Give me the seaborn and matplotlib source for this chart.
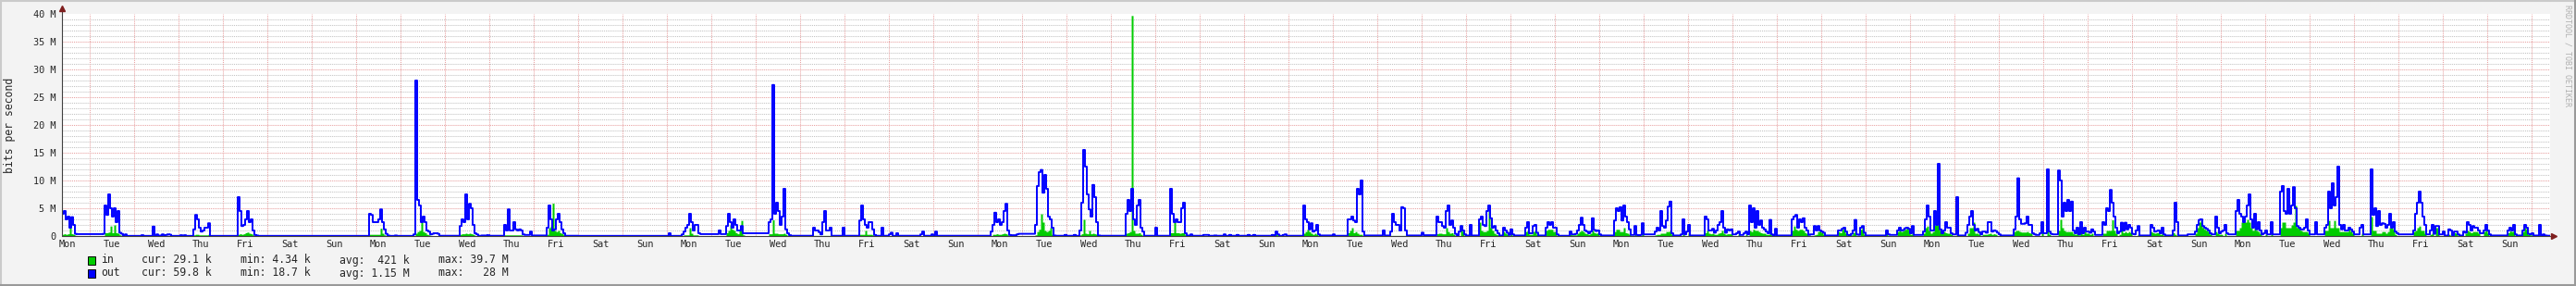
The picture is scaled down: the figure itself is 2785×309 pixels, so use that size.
import numpy as np
import matplotlib
matplotlib.use("Agg")
import matplotlib.pyplot as plt
import seaborn as sns
from matplotlib.patches import Rectangle
from matplotlib.lines import Line2D

# ---------------- data (Mbit/s, hourly, starting Monday 00:00) ----------------
day_names = ["Mon", "Tue", "Wed", "Thu", "Fri", "Sat", "Sun"]
y_ticks = [0, 5, 10, 15, 20, 25, 30, 35, 40]
y_tick_labels = ["0", "5 M", "10 M", "15 M", "20 M", "25 M", "30 M", "35 M", "40 M"]

legend_in = ["in", "cur: 29.1 k", "min: 4.34 k", "avg:  421 k", "max: 39.7 M"]
legend_out = ["out", "cur: 59.8 k", "min: 18.7 k", "avg: 1.15 M", "max:   28 M"]

out_w1 = [
    0, 0, 0, 0, 0, 0, 0, 0, 0, 4.0, 4.5, 3.0, 3.5, 1.5, 3.4, 2.0, 0.4, 0.35, 0.35, 0.35, 0.35, 0.35, 0.35, 0.35,
    0.35, 0.35, 0.35, 0.35, 0.35, 0.35, 0.35, 0.4, 5.5, 3.8, 7.5, 5.0, 3.5, 5.0, 2.5, 4.5, 0.6, 0.4, 0.05, 0.3, 0.03, 0.03, 0.03, 0.03,
    0.03, 0.03, 0.03, 0.03, 0.15, 0.03, 0.03, 0.03, 0.03, 0.03, 1.7, 0.03, 0.3, 0.03, 0.1, 0.3, 0.05, 0.2, 0.3, 0.25, 0.03, 0.03, 0.03, 0.03,
    0.03, 0.15, 0.03, 0.15, 0.03, 0.03, 0.03, 0.03, 1.2, 3.8, 3.0, 1.5, 0.8, 1.0, 1.5, 1.5, 2.3, 0.03, 0.03, 0.03, 0.03, 0.03, 0.03, 0.03,
    0.03, 0.03, 0.03, 0.03, 0.03, 0.03, 0.03, 0.03, 7.0, 4.5, 1.8, 2.0, 3.0, 4.5, 2.5, 3.0, 1.0, 0.2, 0.1, 0.03, 0.03, 0.03, 0.03, 0.03,
    0.03, 0.03, 0.03, 0.03, 0.03, 0.03, 0.03, 0.03, 0.03, 0.03, 0.03, 0.03, 0.03, 0.03, 0.03, 0.03, 0.03, 0.03, 0.03, 0.03, 0.03, 0.03, 0.03, 0.03,
    0.03, 0.03, 0.03, 0.03, 0.03, 0.03, 0.03, 0.03, 0.03, 0.03, 0.03, 0.03, 0.03, 0.03, 0.03, 0.03, 0.03, 0.03, 0.03, 0.03, 0.03, 0.03, 0.03, 0.03,
]
in_w1 = [
    0, 0, 0, 0, 0, 0, 0, 0, 0, 0.3, 0.4, 0.3, 0.4, 1.5, 0.4, 0.3, 0.1, 0.05, 0.05, 0.05, 0.05, 0.05, 0.05, 0.05,
    0.05, 0.05, 0.05, 0.05, 0.05, 0.05, 0.05, 0.05, 0.6, 0.6, 0.7, 1.8, 0.6, 2.0, 0.6, 0.5, 0.2, 0.1, 0.02, 0.02, 0.02, 0.02, 0.02, 0.02,
    0.02, 0.02, 0.02, 0.02, 0.02, 0.02, 0.02, 0.02, 0.02, 0.02, 0.1, 0.02, 0.02, 0.02, 0.02, 0.02, 0.02, 0.02, 0.05, 0.02, 0.02, 0.02, 0.02, 0.02,
    0.02, 0.02, 0.02, 0.02, 0.02, 0.02, 0.02, 0.02, 0.2, 0.3, 0.3, 0.2, 0.2, 0.2, 0.2, 0.2, 0.3, 0.02, 0.02, 0.02, 0.02, 0.02, 0.02, 0.02,
    0.02, 0.02, 0.02, 0.02, 0.02, 0.02, 0.02, 0.02, 0.3, 0.4, 0.3, 0.4, 0.6, 0.7, 0.5, 0.4, 0.2, 0.02, 0.02, 0.02, 0.02, 0.02, 0.02, 0.02,
    0.02, 0.02, 0.02, 0.02, 0.02, 0.02, 0.02, 0.02, 0.02, 0.02, 0.02, 0.02, 0.02, 0.02, 0.02, 0.02, 0.02, 0.02, 0.02, 0.02, 0.02, 0.02, 0.02, 0.02,
    0.02, 0.02, 0.02, 0.02, 0.02, 0.02, 0.02, 0.02, 0.02, 0.02, 0.02, 0.02, 0.02, 0.02, 0.02, 0.02, 0.02, 0.02, 0.02, 0.02, 0.02, 0.02, 0.02, 0.02,
]

out_w2 = [
    0.03, 0.03, 0.03, 0.03, 0.03, 0.03, 0.03, 4.0, 3.8, 2.5, 2.5, 2.5, 3.0, 4.8, 2.5, 1.2, 0.4, 0.1, 0.03, 0.03, 0.03, 0.1, 0.03, 0.03,
    0.03, 0.03, 0.03, 0.03, 0.03, 0.03, 0.03, 0.3, 28.0, 6.5, 5.5, 2.5, 3.5, 2.5, 1.0, 0.8, 0.3, 0.4, 0.5, 0.5, 0.4, 0.05, 0.05, 0.05,
    0.05, 0.05, 0.05, 0.05, 0.05, 0.05, 0.05, 0.05, 1.8, 3.0, 2.5, 7.5, 3.0, 5.8, 5.0, 2.0, 0.5, 0.3, 0.05, 0.05, 0.1, 0.1, 0.1, 0.15,
    0.05, 0.05, 0.05, 0.05, 0.05, 0.05, 0.05, 0.05, 2.0, 1.0, 4.8, 1.0, 1.0, 2.5, 1.2, 1.0, 1.2, 1.0, 0.3, 0.2, 0.2, 0.2, 0.8, 0.1,
    0.1, 0.1, 0.1, 0.1, 0.1, 0.1, 0.1, 1.5, 5.5, 3.0, 1.0, 1.2, 3.0, 4.0, 2.5, 1.2, 0.5, 0.05, 0.05, 0.05, 0.05, 0.05, 0.05, 0.05,
    0.03, 0.03, 0.03, 0.03, 0.03, 0.03, 0.03, 0.03, 0.03, 0.03, 0.03, 0.03, 0.03, 0.03, 0.03, 0.03, 0.03, 0.03, 0.03, 0.03, 0.03, 0.03, 0.03, 0.03,
    0.03, 0.03, 0.03, 0.03, 0.03, 0.03, 0.03, 0.03, 0.03, 0.03, 0.03, 0.03, 0.03, 0.03, 0.03, 0.03, 0.03, 0.03, 0.03, 0.03, 0.03, 0.03, 0.03, 0.03,
]
in_w2 = [
    0.02, 0.02, 0.02, 0.02, 0.02, 0.02, 0.02, 0.3, 0.3, 0.3, 0.3, 0.3, 0.3, 1.4, 0.5, 0.2, 0.02, 0.02, 0.02, 0.02, 0.02, 0.02, 0.02, 0.02,
    0.02, 0.02, 0.02, 0.02, 0.02, 0.02, 0.02, 0.02, 0.5, 0.8, 1.0, 2.8, 0.8, 0.6, 0.3, 0.2, 0.1, 0.02, 0.02, 0.02, 0.02, 0.02, 0.02, 0.02,
    0.02, 0.02, 0.02, 0.02, 0.02, 0.02, 0.02, 0.02, 0.3, 0.4, 0.4, 0.5, 0.4, 0.5, 0.4, 0.3, 0.1, 0.02, 0.02, 0.02, 0.02, 0.02, 0.02, 0.02,
    0.02, 0.02, 0.02, 0.02, 0.02, 0.02, 0.02, 0.02, 0.2, 0.2, 0.2, 0.2, 0.2, 0.2, 0.2, 0.2, 0.2, 0.2, 0.02, 0.02, 0.02, 0.02, 0.02, 0.02,
    0.02, 0.02, 0.02, 0.02, 0.02, 0.02, 0.02, 0.3, 1.5, 1.8, 5.9, 1.0, 0.8, 1.0, 0.6, 0.4, 0.2, 0.02, 0.02, 0.02, 0.02, 0.02, 0.02, 0.02,
    0.02, 0.02, 0.02, 0.02, 0.02, 0.02, 0.02, 0.02, 0.02, 0.02, 0.02, 0.02, 0.02, 0.02, 0.02, 0.02, 0.02, 0.02, 0.02, 0.02, 0.02, 0.02, 0.02, 0.02,
    0.02, 0.02, 0.02, 0.02, 0.02, 0.02, 0.02, 0.02, 0.02, 0.02, 0.02, 0.02, 0.02, 0.02, 0.02, 0.02, 0.02, 0.02, 0.02, 0.02, 0.02, 0.02, 0.02, 0.02,
]

out_w3 = [
    0.03, 0.5, 0.03, 0.03, 0.03, 0.03, 0.03, 0.03, 0.3, 0.8, 1.5, 2.0, 4.0, 2.5, 1.0, 2.0, 2.0, 0.5, 0.35, 0.35, 0.35, 0.35, 0.35, 0.35,
    0.35, 0.35, 0.35, 0.35, 1.0, 0.35, 0.35, 0.35, 1.8, 4.0, 2.5, 1.5, 3.0, 2.0, 1.0, 1.0, 1.8, 0.5, 0.5, 0.5, 0.5, 0.5, 0.5, 0.5,
    0.5, 0.5, 0.5, 0.5, 0.5, 0.5, 0.5, 2.5, 3.0, 27.2, 4.0, 6.0, 4.5, 2.0, 3.5, 8.5, 1.2, 0.5, 0.15, 0.05, 0.05, 0.05, 0.05, 0.05,
    0.05, 0.05, 0.05, 0.05, 0.05, 0.05, 0.05, 1.5, 1.0, 1.0, 0.7, 0.3, 2.5, 4.5, 1.0, 1.0, 1.5, 0.05, 0.05, 0.05, 0.05, 0.05, 0.05, 1.5,
    0.05, 0.05, 0.05, 0.05, 0.05, 0.05, 0.05, 0.05, 2.8, 5.5, 3.0, 2.0, 1.5, 2.5, 2.5, 1.2, 0.2, 0.05, 0.05, 0.05, 1.5, 0.05, 0.05, 0.05,
    0.3, 0.6, 0.05, 0.05, 0.5, 0.05, 0.05, 0.05, 0.05, 0.05, 0.05, 0.05, 0.05, 0.05, 0.05, 0.05, 0.05, 0.3, 0.8, 0.05, 0.05, 0.05, 0.05, 0.3,
    0.05, 0.8, 0.05, 0.05, 0.05, 0.05, 0.05, 0.05, 0.05, 0.05, 0.05, 0.05, 0.05, 0.05, 0.05, 0.05, 0.05, 0.05, 0.05, 0.05, 0.05, 0.05, 0.05, 0.05,
]
in_w3 = [
    0.02, 0.02, 0.02, 0.02, 0.02, 0.02, 0.02, 0.02, 0.02, 0.2, 0.2, 0.2, 1.5, 0.5, 0.2, 0.2, 0.2, 0.02, 0.02, 0.02, 0.02, 0.02, 0.02, 0.02,
    0.03, 0.03, 0.03, 0.03, 0.03, 0.03, 0.03, 0.03, 0.6, 1.0, 2.0, 1.2, 1.0, 0.6, 0.4, 1.0, 2.8, 0.2, 0.03, 0.03, 0.03, 0.03, 0.03, 0.03,
    0.03, 0.03, 0.03, 0.03, 0.03, 0.03, 0.03, 0.4, 0.4, 2.9, 0.5, 0.5, 0.4, 0.4, 0.4, 0.5, 0.3, 0.03, 0.03, 0.03, 0.03, 0.03, 0.03, 0.03,
    0.02, 0.02, 0.02, 0.02, 0.02, 0.02, 0.02, 0.1, 0.1, 0.1, 0.1, 0.1, 0.1, 0.1, 0.1, 0.1, 0.1, 0.02, 0.02, 0.02, 0.02, 0.02, 0.02, 0.02,
    0.02, 0.02, 0.02, 0.02, 0.02, 0.02, 0.02, 0.02, 0.3, 0.3, 0.3, 1.0, 0.3, 0.3, 0.3, 0.2, 0.02, 0.02, 0.02, 0.02, 0.02, 0.02, 0.02, 0.02,
    0.02, 0.02, 0.02, 0.02, 0.02, 0.02, 0.02, 0.02, 0.02, 0.02, 0.02, 0.02, 0.02, 0.02, 0.02, 0.02, 0.02, 0.02, 0.02, 0.02, 0.02, 0.02, 0.02, 0.02,
    0.02, 0.02, 0.02, 0.02, 0.02, 0.02, 0.02, 0.02, 0.02, 0.02, 0.02, 0.02, 0.02, 0.02, 0.02, 0.02, 0.02, 0.02, 0.02, 0.02, 0.02, 0.02, 0.02, 0.02,
]

out_w4 = [
    0.05, 0.05, 0.05, 0.05, 0.05, 0.05, 0.05, 0.8, 2.0, 4.2, 2.5, 3.0, 2.0, 2.5, 4.5, 5.8, 1.0, 0.2, 0.15, 0.15, 0.15, 0.3, 0.4, 0.4,
    0.4, 0.4, 0.4, 0.4, 0.4, 0.4, 0.4, 2.0, 9.0, 11.5, 11.9, 7.8, 11.0, 8.5, 3.5, 3.0, 1.5, 0.1, 0.05, 0.05, 0.05, 0.05, 0.05, 0.2,
    0.05, 0.05, 0.05, 0.05, 0.2, 0.05, 0.05, 1.0, 6.0, 15.5, 12.5, 7.5, 4.8, 3.5, 9.2, 7.0, 2.5, 0.1, 0.05, 0.05, 0.05, 0.05, 0.05, 0.05,
    0.05, 0.05, 0.05, 0.05, 0.05, 0.05, 0.05, 0.05, 4.0, 6.5, 4.5, 8.5, 3.0, 2.0, 5.5, 6.5, 1.5, 0.8, 0.05, 0.05, 0.05, 0.05, 0.05, 0.05,
    1.5, 0.05, 0.05, 0.05, 0.05, 0.05, 0.05, 0.05, 8.5, 4.0, 2.5, 3.0, 2.5, 2.5, 5.0, 6.0, 0.5, 0.1, 0.05, 0.3, 0.05, 0.05, 0.05, 0.05,
    0.05, 0.05, 0.2, 0.2, 0.2, 0.05, 0.05, 0.05, 0.1, 0.05, 0.05, 0.05, 0.05, 0.3, 0.05, 0.05, 0.2, 0.05, 0.05, 0.05, 0.2, 0.05, 0.05, 0.05,
    0.05, 0.05, 0.2, 0.05, 0.05, 0.2, 0.05, 0.05, 0.05, 0.05, 0.05, 0.05, 0.05, 0.05, 0.05, 0.2, 0.05, 0.8, 0.3, 0.05, 0.05, 0.2, 0.3, 0.05,
]
in_w4 = [
    0.02, 0.02, 0.02, 0.02, 0.02, 0.02, 0.02, 0.02, 0.3, 0.3, 0.4, 0.3, 0.3, 0.4, 0.5, 0.4, 0.2, 0.02, 0.02, 0.02, 0.02, 0.02, 0.02, 0.02,
    0.03, 0.03, 0.03, 0.03, 0.03, 0.03, 0.03, 0.2, 0.8, 1.2, 4.0, 2.5, 1.0, 0.8, 1.0, 1.5, 0.3, 0.03, 0.03, 0.03, 0.03, 0.03, 0.03, 0.03,
    0.02, 0.02, 0.02, 0.02, 0.02, 0.02, 0.02, 0.2, 0.4, 3.0, 0.5, 0.4, 1.0, 0.4, 0.5, 0.4, 0.3, 0.02, 0.02, 0.02, 0.02, 0.02, 0.02, 0.02,
    0.02, 0.02, 0.02, 0.02, 0.02, 0.02, 0.02, 0.02, 0.5, 0.6, 0.8, 39.7, 1.0, 0.5, 0.5, 0.6, 0.3, 0.1, 0.02, 0.02, 0.02, 0.02, 0.02, 0.02,
    0.02, 0.02, 0.02, 0.02, 0.02, 0.02, 0.02, 0.02, 0.6, 0.6, 3.0, 0.6, 0.6, 0.5, 0.6, 0.6, 0.2, 0.02, 0.02, 0.02, 0.02, 0.02, 0.02, 0.02,
    0.02, 0.02, 0.02, 0.02, 0.02, 0.02, 0.02, 0.02, 0.02, 0.02, 0.02, 0.02, 0.02, 0.02, 0.02, 0.02, 0.02, 0.02, 0.02, 0.02, 0.02, 0.02, 0.02, 0.02,
    0.02, 0.02, 0.02, 0.02, 0.02, 0.02, 0.02, 0.02, 0.02, 0.02, 0.02, 0.02, 0.02, 0.02, 0.02, 0.02, 0.02, 0.3, 0.2, 0.02, 0.02, 0.02, 0.02, 0.02,
]

out_w5 = [
    0.05, 0.05, 0.05, 0.05, 0.05, 0.05, 0.05, 0.05, 5.5, 3.0, 2.5, 1.2, 2.3, 0.8, 1.0, 2.0, 0.3, 0.1, 0.1, 0.1, 0.1, 0.1, 0.1, 0.1,
    0.3, 0.05, 0.05, 0.05, 0.05, 0.05, 0.05, 0.05, 3.0, 3.0, 3.5, 2.8, 2.5, 8.5, 7.5, 10.0, 0.8, 0.1, 0.1, 0.1, 0.1, 0.1, 0.1, 0.1,
    0.1, 0.1, 0.1, 1.0, 0.1, 0.1, 0.1, 0.8, 4.0, 2.5, 2.0, 2.0, 1.0, 5.2, 5.0, 1.0, 0.1, 0.1, 0.1, 0.1, 0.1, 0.1, 0.1, 0.1,
    0.6, 0.15, 0.15, 0.15, 0.15, 0.15, 0.15, 0.15, 3.5, 2.5, 2.5, 1.8, 1.5, 4.5, 5.5, 2.0, 2.8, 1.5, 0.4, 0.1, 0.8, 1.8, 1.0, 0.3,
    0.1, 0.1, 2.0, 0.1, 0.1, 0.1, 0.1, 3.0, 3.5, 2.0, 1.8, 4.5, 5.5, 3.2, 1.5, 1.8, 1.0, 0.5, 0.1, 0.1, 1.5, 1.0, 0.6, 0.2,
    1.2, 0.3, 0.1, 0.1, 0.1, 0.1, 0.1, 0.1, 1.5, 2.5, 0.5, 0.5, 1.8, 2.0, 0.6, 0.1, 0.1, 0.1, 0.1, 1.5, 2.5, 2.0, 2.5, 1.5,
    1.5, 0.3, 0.05, 0.05, 0.05, 0.05, 0.05, 0.05, 0.8, 0.3, 0.3, 0.4, 1.0, 2.0, 3.3, 2.0, 1.0, 0.8, 0.5, 0.8, 3.2, 1.1, 0.9, 1.0,
]
in_w5 = [
    0.02, 0.02, 0.02, 0.02, 0.02, 0.02, 0.02, 0.02, 0.5, 0.8, 1.2, 0.8, 0.5, 0.3, 0.5, 0.3, 0.1, 0.02, 0.02, 0.02, 0.02, 0.02, 0.02, 0.02,
    0.02, 0.02, 0.02, 0.02, 0.02, 0.02, 0.02, 0.02, 0.6, 1.0, 1.5, 0.6, 0.8, 0.5, 0.3, 0.3, 0.02, 0.02, 0.02, 0.02, 0.02, 0.02, 0.02, 0.02,
    0.02, 0.02, 0.02, 0.02, 0.02, 0.02, 0.02, 0.1, 0.1, 0.1, 0.1, 0.1, 0.1, 0.1, 0.1, 0.1, 0.02, 0.02, 0.02, 0.02, 0.02, 0.02, 0.02, 0.02,
    0.02, 0.02, 0.02, 0.02, 0.02, 0.02, 0.02, 0.02, 0.4, 0.5, 0.5, 0.4, 0.4, 1.5, 0.8, 0.5, 0.6, 0.3, 0.02, 0.02, 0.02, 2.0, 0.8, 0.02,
    0.02, 0.02, 0.3, 0.02, 0.02, 0.02, 0.02, 2.5, 1.0, 0.8, 0.8, 1.0, 4.5, 1.5, 1.0, 0.5, 0.3, 0.2, 0.02, 0.02, 0.8, 0.5, 0.3, 0.1,
    0.5, 0.03, 0.03, 0.03, 0.03, 0.03, 0.03, 0.03, 0.8, 1.0, 0.3, 0.3, 0.8, 1.0, 0.3, 0.03, 0.03, 0.03, 0.03, 1.0, 1.2, 1.2, 1.2, 0.8,
    0.8, 0.02, 0.02, 0.02, 0.02, 0.02, 0.02, 0.02, 0.3, 0.2, 0.2, 0.2, 0.5, 0.8, 1.0, 0.8, 0.5, 0.4, 0.3, 0.5, 1.0, 0.6, 0.5, 0.6,
]

out_w6 = [
    0.3, 0.1, 0.1, 0.1, 0.1, 0.1, 0.1, 0.1, 2.8, 5.0, 4.5, 5.2, 2.8, 5.5, 3.5, 2.5, 1.2, 0.2, 0.2, 1.8, 0.2, 0.1, 0.2, 2.3,
    0.3, 0.3, 0.3, 0.3, 0.3, 0.3, 0.8, 1.5, 1.0, 4.5, 1.8, 1.5, 2.8, 5.3, 6.2, 0.5, 0.1, 0.1, 0.1, 0.1, 0.3, 3.0, 0.3, 0.8,
    2.0, 0.1, 0.1, 0.1, 0.1, 0.1, 0.1, 0.1, 0.1, 3.5, 3.0, 1.0, 1.0, 1.3, 0.6, 1.0, 2.0, 2.5, 4.5, 1.5, 0.6, 1.2, 1.0, 1.2,
    0.3, 0.3, 0.5, 0.8, 0.2, 0.2, 0.5, 0.8, 0.3, 5.5, 2.5, 5.0, 1.5, 4.5, 2.0, 2.8, 1.5, 1.2, 0.8, 0.5, 2.9, 0.3, 0.1, 1.3,
    0.1, 0.1, 0.1, 0.1, 0.1, 0.1, 0.1, 0.1, 3.0, 3.5, 3.8, 1.5, 3.0, 2.5, 3.2, 1.5, 1.0, 0.2, 0.3, 0.3, 1.8, 1.0, 1.8, 1.0,
    0.8, 0.6, 0.1, 0.1, 0.1, 0.1, 0.1, 0.1, 0.1, 1.0, 1.0, 1.3, 1.5, 0.8, 0.2, 0.1, 0.4, 1.0, 2.9, 0.3, 0.2, 1.5, 1.8, 0.6,
    0.1, 0.1, 0.1, 0.1, 0.1, 0.1, 0.1, 0.1, 0.1, 0.1, 0.1, 1.0, 0.3, 0.2, 0.2, 0.2, 0.2, 1.0, 1.5, 1.0, 1.1, 1.4, 1.5, 1.3,
]
in_w6 = [
    0.03, 0.03, 0.03, 0.03, 0.03, 0.03, 0.03, 0.03, 0.8, 1.2, 1.2, 0.8, 0.8, 1.5, 0.6, 0.5, 0.3, 0.03, 0.03, 0.3, 0.03, 0.03, 0.03, 1.8,
    0.03, 0.03, 0.03, 0.03, 0.03, 0.03, 0.2, 0.3, 0.3, 0.5, 0.5, 0.5, 0.8, 0.8, 1.0, 0.3, 0.03, 0.03, 0.03, 0.03, 0.03, 0.3, 0.03, 0.03,
    0.5, 0.03, 0.03, 0.03, 0.03, 0.03, 0.03, 0.03, 0.03, 0.6, 1.0, 0.5, 0.4, 0.5, 0.3, 0.3, 0.5, 0.6, 1.0, 0.5, 0.3, 0.4, 0.4, 0.4,
    0.03, 0.03, 0.03, 0.3, 0.03, 0.03, 0.03, 0.3, 0.03, 1.0, 0.8, 1.2, 1.0, 1.0, 0.8, 0.6, 0.5, 0.5, 0.3, 0.3, 0.8, 0.2, 0.03, 0.5,
    0.03, 0.03, 0.03, 0.03, 0.03, 0.03, 0.03, 0.03, 1.0, 1.8, 1.2, 1.0, 1.2, 1.2, 1.0, 0.6, 0.4, 0.03, 0.03, 0.03, 0.2, 0.3, 0.8, 1.0,
    0.6, 0.3, 0.03, 0.03, 0.03, 0.03, 0.03, 0.03, 0.03, 0.8, 0.6, 1.2, 1.3, 0.5, 0.03, 0.03, 0.2, 0.6, 1.0, 0.03, 0.03, 1.2, 1.6, 0.3,
    0.03, 0.03, 0.03, 0.03, 0.03, 0.03, 0.03, 0.03, 0.03, 0.03, 0.03, 1.0, 0.03, 0.03, 0.03, 0.03, 0.03, 0.8, 1.2, 0.8, 1.0, 1.2, 1.4, 1.2,
]

out_w7 = [
    0.5, 1.8, 0.2, 0.2, 0.2, 0.2, 0.2, 0.8, 3.0, 5.5, 3.5, 1.0, 1.0, 4.5, 2.0, 13.0, 1.2, 0.5, 1.0, 2.5, 1.5, 1.5, 0.5, 0.3,
    0.3, 7.0, 0.1, 0.1, 0.1, 0.1, 0.6, 2.0, 3.5, 4.5, 2.0, 1.0, 1.3, 0.7, 0.3, 0.8, 0.8, 0.6, 2.5, 2.5, 0.8, 1.0, 0.9, 0.6,
    0.3, 0.1, 0.1, 0.1, 0.1, 0.1, 0.1, 0.1, 1.2, 3.5, 10.4, 3.0, 2.2, 2.2, 2.3, 3.5, 2.0, 2.0, 0.5, 0.3, 0.2, 0.2, 0.5, 2.5,
    0.5, 0.5, 12.0, 0.8, 0.4, 0.3, 0.3, 0.3, 11.8, 10.0, 3.5, 6.0, 4.5, 6.5, 4.5, 6.2, 1.0, 0.5, 1.5, 0.3, 2.5, 0.5, 1.5, 0.8,
    0.8, 0.6, 1.2, 0.8, 0.2, 0.2, 0.2, 0.2, 2.5, 2.0, 5.0, 4.5, 8.3, 6.0, 3.5, 1.5, 0.5, 0.8, 2.4, 1.0, 2.4, 1.2, 2.0, 1.5,
    0.4, 0.3, 1.0, 1.8, 0.1, 0.1, 0.1, 0.1, 0.1, 0.1, 2.0, 1.5, 0.8, 0.9, 1.0, 0.5, 1.5, 0.3, 0.1, 0.1, 0.1, 0.1, 1.0, 6.0,
    2.5, 0.1, 0.1, 0.1, 0.1, 0.1, 0.3, 0.3, 0.3, 0.3, 0.8, 2.0, 2.9, 3.0, 1.8, 1.5, 1.3, 1.0, 0.5, 0.3, 0.3, 3.5, 1.5, 0.5,
]
in_w7 = [
    0.3, 0.8, 0.03, 0.03, 0.03, 0.03, 0.03, 0.5, 1.5, 1.8, 1.0, 0.5, 0.8, 2.0, 2.0, 3.8, 1.0, 0.5, 0.8, 0.6, 0.5, 0.5, 0.3, 0.03,
    0.03, 0.3, 0.03, 0.03, 0.03, 0.03, 0.03, 0.5, 1.5, 1.5, 2.5, 0.5, 0.5, 0.3, 0.03, 0.3, 0.3, 0.3, 0.4, 0.5, 0.3, 0.4, 0.3, 0.03,
    0.03, 0.03, 0.03, 0.03, 0.03, 0.03, 0.03, 0.03, 0.8, 1.0, 1.0, 0.8, 0.7, 0.7, 0.7, 0.8, 0.6, 0.5, 0.03, 0.03, 0.03, 0.03, 0.03, 1.0,
    0.05, 0.05, 3.0, 0.3, 0.05, 0.05, 0.05, 0.05, 1.0, 3.0, 1.5, 1.0, 0.8, 0.8, 0.8, 0.8, 0.4, 0.3, 0.6, 0.2, 0.8, 0.3, 0.8, 0.5,
    0.5, 0.3, 0.5, 0.05, 0.05, 0.05, 0.05, 0.05, 0.5, 0.5, 1.0, 1.0, 1.0, 2.9, 1.0, 0.5, 0.05, 0.3, 1.5, 0.6, 0.8, 0.6, 0.8, 0.6,
    0.03, 0.03, 0.03, 0.3, 0.03, 0.03, 0.03, 0.03, 0.03, 0.03, 0.8, 0.6, 0.5, 0.6, 0.6, 0.3, 0.8, 0.03, 0.03, 0.03, 0.03, 0.03, 0.6, 0.3,
    0.03, 0.03, 0.03, 0.03, 0.03, 0.03, 0.03, 0.03, 0.03, 0.03, 0.5, 1.5, 2.5, 2.8, 1.5, 1.2, 1.0, 0.8, 0.3, 0.03, 0.03, 0.8, 0.5, 0.3,
]

out_w8 = [
    0.8, 1.0, 2.0, 0.5, 0.3, 0.3, 0.3, 0.3, 4.5, 6.5, 4.0, 3.5, 2.5, 3.5, 5.5, 7.5, 3.0, 1.5, 4.0, 1.2, 2.5, 1.0, 0.3, 0.5,
    1.0, 0.3, 0.3, 2.5, 0.3, 0.3, 0.3, 0.3, 8.0, 9.0, 4.5, 4.0, 8.5, 4.0, 5.5, 8.8, 5.0, 1.8, 1.5, 1.2, 1.2, 1.5, 3.0, 1.0,
    0.3, 0.3, 0.3, 2.5, 0.3, 0.3, 0.3, 0.3, 1.5, 2.0, 8.0, 5.0, 9.5, 5.5, 7.0, 12.5, 2.0, 1.2, 2.0, 1.0, 1.0, 1.5, 1.2, 0.8,
    0.3, 0.3, 0.3, 1.5, 2.0, 0.3, 0.3, 0.3, 0.3, 12.0, 3.8, 5.0, 1.8, 4.5, 2.0, 2.3, 2.2, 1.5, 2.0, 4.0, 1.5, 2.5, 0.8, 0.5,
    0.3, 0.3, 0.3, 0.3, 0.3, 0.3, 0.3, 0.3, 1.0, 4.0, 6.0, 8.0, 6.0, 3.5, 2.0, 0.3, 0.3, 1.0, 2.0, 0.4, 1.8, 1.8, 0.3, 0.3,
    0.8, 0.1, 0.1, 1.2, 1.0, 0.1, 0.8, 0.8, 0.3, 0.1, 0.1, 0.8, 0.6, 2.5, 2.0, 1.0, 1.8, 1.5, 1.5, 1.0, 0.5, 0.5, 1.0, 2.0,
    1.0, 0.3, 0.1, 0.1, 0.1, 0.1, 0.1, 0.1, 0.1, 0.1, 0.1, 1.0, 1.5, 1.0, 2.0, 0.3, 0.1, 0.1, 0.1, 1.0, 2.0, 1.5, 0.4, 0.3,
]
in_w8 = [
    0.3, 0.05, 0.5, 0.05, 0.05, 0.05, 0.05, 0.05, 1.0, 1.0, 1.5, 2.5, 3.5, 2.5, 3.0, 2.5, 1.5, 1.0, 1.5, 1.0, 0.8, 0.4, 0.05, 0.05,
    0.3, 0.05, 0.05, 0.5, 0.05, 0.05, 0.05, 0.05, 1.5, 2.5, 2.5, 1.5, 1.5, 1.5, 2.0, 2.5, 5.5, 1.5, 1.5, 1.0, 0.8, 0.8, 0.8, 0.5,
    0.05, 0.05, 0.05, 0.05, 0.05, 0.05, 0.05, 0.05, 1.0, 1.0, 2.8, 1.5, 1.5, 2.8, 1.5, 1.5, 0.8, 0.8, 0.8, 0.8, 0.8, 1.5, 0.8, 0.5,
    0.05, 0.05, 0.05, 0.05, 0.5, 0.05, 0.05, 0.05, 0.05, 3.5, 1.0, 1.0, 0.5, 0.5, 0.5, 0.8, 0.8, 0.5, 0.8, 1.5, 1.5, 1.2, 0.3, 0.05,
    0.05, 0.05, 0.05, 0.05, 0.05, 0.05, 0.05, 0.05, 0.8, 1.0, 1.5, 1.8, 1.0, 1.0, 0.5, 0.05, 0.05, 0.3, 0.5, 0.05, 1.5, 1.5, 0.05, 0.05,
    0.03, 0.03, 0.03, 0.3, 0.03, 0.03, 0.6, 0.5, 0.03, 0.03, 0.03, 0.03, 0.5, 1.0, 0.8, 0.6, 0.8, 0.8, 0.8, 0.5, 0.03, 0.03, 0.8, 1.2,
    0.5, 0.03, 0.03, 0.03, 0.03, 0.03, 0.03, 0.03, 0.03, 0.03, 0.03, 0.6, 0.9, 0.8, 1.0, 0.03, 0.03, 0.03, 0.03, 0.8, 1.5, 1.2, 0.3, 0.2,
]

out_w9 = [0.5, 0.1, 0.1, 0.1, 2.0, 0.1, 0.3, 0.1, 0.06, 0.06]
in_w9 = [0.2, 0.03, 0.03, 0.03, 0.3, 0.03, 0.05, 0.03, 0.03, 0.03]

# ---------------- assemble ----------------
out_vals = np.array(out_w1 + out_w2 + out_w3 + out_w4 + out_w5 + out_w6 + out_w7 + out_w8 + out_w9)
in_vals = np.array(in_w1 + in_w2 + in_w3 + in_w4 + in_w5 + in_w6 + in_w7 + in_w8 + in_w9)
hours = np.arange(len(out_vals) + 1)
out_step = np.append(out_vals, out_vals[-1])
in_step = np.append(in_vals, in_vals[-1])

W, H = 2785, 309
sns.set_style("white")
plt.rcParams["font.family"] = ["DejaVu Sans Mono"]

fig = plt.figure(figsize=(W / 100, H / 100), dpi=100, facecolor="#f3f3f3")
ax = fig.add_axes([67 / W, (H - 255) / H, 2690 / W, 240 / H])
ax.set_facecolor("white")

x_start, x_end = 9, len(out_vals)
ax.set_xlim(x_start, x_end)
ax.set_ylim(0, 40)

# grid
dots = (0, (1, 1))
for yv in range(1, 40):
    major = yv % 5 == 0
    ax.axhline(yv, color="#e9a3a3" if major else "#c4c4c4", lw=0.75, ls=dots, zorder=1)
n_days = len(out_vals) // 24 + 1
for d in range(1, n_days):
    ax.axvline(24 * d, color="#e9a3a3", lw=0.75, ls=dots, zorder=1)

# series
ax.fill_between(hours, 0, in_step, step="post", color="#00cc00", lw=0, zorder=2)
sns.lineplot(x=hours, y=out_step, drawstyle="steps-post", color="#0000ff", lw=1.4,
             ax=ax, zorder=3, sort=False, estimator=None)

# axes
for s in ax.spines.values():
    s.set_visible(False)
ax.plot([0, 0], [0, 1 + 4 / 240], transform=ax.transAxes, color="#404040", lw=0.8,
        clip_on=False, zorder=4)
ax.plot([0, 1 + 4 / 2690], [0, 0], transform=ax.transAxes, color="#404040", lw=0.8,
        clip_on=False, zorder=4)
ax.plot([0], [1 + 6 / 240], transform=ax.transAxes, marker="^", ms=4.5, color="#7f1f1f",
        mec="#7f1f1f", clip_on=False, zorder=5)
ax.plot([1 + 4 / 2690], [0], transform=ax.transAxes, marker=">", ms=4.5, color="#7f1f1f",
        mec="#7f1f1f", clip_on=False, zorder=5)

# ticks
centers = [24 * d + 12 for d in range(n_days) if x_start <= 24 * d + 12 <= x_end]
ax.set_xticks(centers)
ax.set_xticklabels([day_names[(c // 24) % 7] for c in centers], fontsize=7.4)
ax.set_yticks(y_ticks)
ax.set_yticklabels(y_tick_labels, fontsize=7.4)
ax.tick_params(axis="x", length=0, pad=3.2)
ax.tick_params(axis="y", length=0, pad=5)
ax.grid(False)

# y label & watermark
fig.text(11 / W, 1 - 135 / H, "bits per second", rotation=90, ha="center", va="center", fontsize=8.3)
fig.text(2776 / W, 1 - 5 / H, "RRDTOOL / TOBI OETIKER", rotation=270, ha="center", va="top",
         fontsize=6, color="#b0b0b0")

# legend
rows = [(281, "#00cc00", legend_in), (295, "#0000ff", legend_out)]
xs = [109, 153, 260, 367, 474]
for yc, col, texts in rows:
    fig.add_artist(Rectangle((95 / W, 1 - (yc + 4.5) / H), 8 / W, 9 / H, transform=fig.transFigure,
                             facecolor=col, edgecolor="black", lw=0.7))
    for xp, t in zip(xs, texts):
        fig.text(xp / W, 1 - yc / H, t, ha="left", va="center", fontsize=8.3)

# frame
fig.add_artist(Line2D([0, 1], [1 - 1 / H, 1 - 1 / H], transform=fig.transFigure, color="#cbcbcb", lw=1.5))
fig.add_artist(Line2D([1 / W, 1 / W], [0, 1], transform=fig.transFigure, color="#cbcbcb", lw=1.5))
fig.add_artist(Line2D([1 - 1 / W, 1 - 1 / W], [0, 1], transform=fig.transFigure, color="#999999", lw=1.5))
fig.add_artist(Line2D([0, 1], [1 / H, 1 / H], transform=fig.transFigure, color="#999999", lw=1.5))

fig.savefig("out.png", dpi=100, facecolor=fig.get_facecolor())
